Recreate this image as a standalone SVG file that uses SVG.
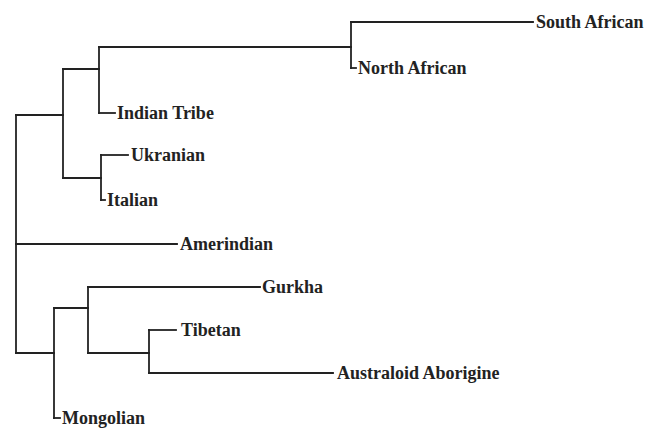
<svg xmlns="http://www.w3.org/2000/svg" width="646" height="428" viewBox="0 0 646 428">
<style>
.c{fill:none;stroke:#222;stroke-width:1.8;stroke-linecap:square}
.t{font-family:"Liberation Serif","Times New Roman",serif;font-weight:bold;font-size:18px;fill:#222}
</style>
<rect width="646" height="428" fill="#fff"/>
<g id="connectors" class="c">
<path d="M16 115 V353"/>
<path d="M16 115 H63"/>
<path d="M63 69 V178"/>
<path d="M63 69 H99"/>
<path d="M99 47 V113"/>
<path d="M99 47 H351"/>
<path d="M351 22 V68"/>
<path d="M351 22 H533"/>
<path d="M351 68 H356"/>
<path d="M99 113 H115"/>
<path d="M63 178 H101"/>
<path d="M101 155 V200"/>
<path d="M101 155 H128"/>
<path d="M101 200 H105"/>
<path d="M16 244 H177"/>
<path d="M16 353 H54"/>
<path d="M54 308 V418"/>
<path d="M54 308 H88"/>
<path d="M88 287 V353"/>
<path d="M88 287 H260"/>
<path d="M88 353 H149"/>
<path d="M149 330 V373"/>
<path d="M149 330 H176"/>
<path d="M149 373 H333"/>
<path d="M54 418 H60"/>
</g>
<g id="south-african"><text class="t" x="536" y="28">South African</text></g>
<g id="north-african"><text class="t" x="358" y="74">North African</text></g>
<g id="indian-tribe"><text class="t" x="117" y="119">Indian Tribe</text></g>
<g id="ukranian"><text class="t" x="131" y="161">Ukranian</text></g>
<g id="italian"><text class="t" x="107" y="206">Italian</text></g>
<g id="amerindian"><text class="t" x="180" y="250">Amerindian</text></g>
<g id="gurkha"><text class="t" x="262" y="293">Gurkha</text></g>
<g id="tibetan"><text class="t" x="181" y="336">Tibetan</text></g>
<g id="australoid-aborigine"><text class="t" x="337" y="379">Australoid Aborigine</text></g>
<g id="mongolian"><text class="t" x="62" y="424">Mongolian</text></g>
</svg>
